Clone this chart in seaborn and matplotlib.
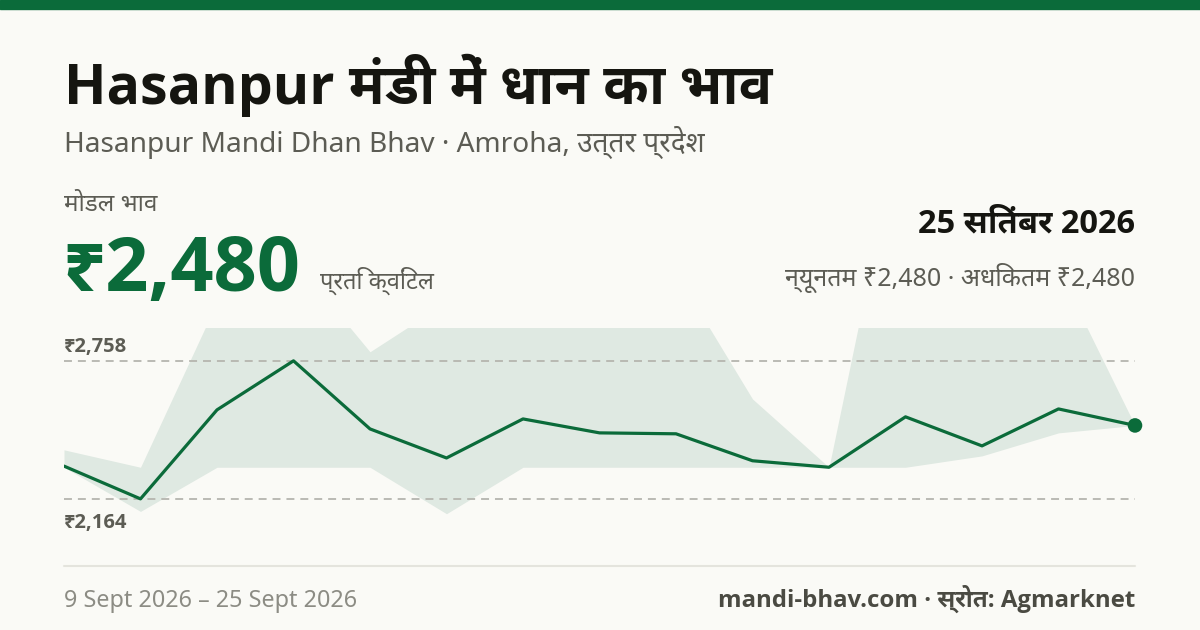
import matplotlib
matplotlib.use('Agg')
import matplotlib.pyplot as plt
from matplotlib import font_manager
import pandas as pd
import seaborn as sns

# Data
dates = ["9 Sep", "10 Sep", "11 Sep", "12 Sep", "14 Sep", "15 Sep", "16 Sep", "17 Sep",
         "18 Sep", "19 Sep", "21 Sep", "22 Sep", "23 Sep", "24 Sep", "25 Sep"]
modal_price = [2305, 2164, 2547, 2758, 2465, 2340, 2508, 2448, 2444, 2328, 2300, 2517, 2392, 2551, 2480]
min_price = [2300, 2110, 2300, 2300, 2300, 2100, 2300, 2300, 2300, 2300, 2300, 2300, 2349, 2448, 2480]
max_price = [2375, 2300, 3010, 3195, 2797, 3010, 3100, 3100, 3137, 2594, 2300, 3880, 3500, 3150, 2480]

title = "Hasanpur मंडी में धान का भाव"
subtitle = "Hasanpur Mandi Dhan Bhav · Amroha, उत्तर प्रदेश"
modal_label = "मोडल भाव"
modal_text = "₹2,480"
unit_text = "प्रति क्विंटल"
date_text = "25 सितंबर 2026"
range_text = "न्यूनतम ₹2,480 · अधिकतम ₹2,480"
hi_label = "₹2,758"
lo_label = "₹2,164"
period_text = "9 Sept 2026 – 25 Sept 2026"
source_text = "mandi-bhav.com · स्रोत: Agmarknet"

GREEN = "#0b6b3a"
BAND = "#dfe9e2"
BG = "#fafaf6"
DARK = "#151510"
GREY = "#5c5c54"
LIGHT = "#8c8c84"


def static_bold(candidates):
    """First family that ships a real (non-variable) bold face."""
    for name in candidates:
        for f in font_manager.fontManager.ttflist:
            if f.name == name and f.weight in (700, "bold") and "[" not in f.fname:
                return name
    return "DejaVu Sans"


sns.set_theme(style="white")
DEVA = "Noto Sans Devanagari UI"
REG = ["Noto Sans", DEVA, "DejaVu Sans"]
BOLD = [static_bold(["Open Sans", "Noto Sans", "Lato", "Roboto", "Inter"]), DEVA, "DejaVu Sans"]
plt.rcParams['font.family'] = REG

W, H = 1200, 630
fig = plt.figure(figsize=(12, 6.3), dpi=100)
fig.patch.set_facecolor(BG)


def fx(x):
    return x / W


def fy(y):
    return 1 - y / H


# top green bar
fig.patches.append(plt.Rectangle((0, fy(9)), 1, 9 / H, transform=fig.transFigure,
                                 color=GREEN, zorder=5))

# header texts
fig.text(fx(64), fy(104), title, fontsize=40, fontweight='bold', family=BOLD,
         color=DARK, va='baseline')
fig.text(fx(64), fy(152), subtitle, fontsize=20.2, color=GREY, va='baseline')
fig.text(fx(64), fy(211), modal_label, fontsize=17.5, color=GREY, va='baseline')
fig.text(fx(62), fy(291), modal_text, fontsize=54.5, fontweight='bold', family=BOLD,
         color=GREEN, va='baseline')
fig.text(fx(320), fy(289), unit_text, fontsize=17, color=GREY, va='baseline')
fig.text(fx(1135), fy(232), date_text, fontsize=23.5, fontweight='bold', family=BOLD,
         color=DARK, va='baseline', ha='right')
fig.text(fx(1135), fy(286), range_text, fontsize=18, color=GREY, va='baseline', ha='right')

# chart
y_top, y_bot = 327.7, 532
ax = fig.add_axes([fx(64), fy(y_bot), fx(1135) - fx(64), (y_bot - y_top) / H])
ax.set_facecolor(BG)

df = pd.DataFrame({"date": dates, "modal": modal_price, "low": min_price, "high": max_price})
df["pos"] = range(len(df))

ax.fill_between(df["pos"], df["low"], df["high"], color=BAND, linewidth=0, zorder=1)
sns.lineplot(data=df, x="pos", y="modal", ax=ax, color=GREEN, linewidth=2.3, zorder=3)
last = df.iloc[[-1]]
sns.scatterplot(data=last, x="pos", y="modal", ax=ax, color=GREEN, s=110,
                edgecolor='none', zorder=4, clip_on=False)

hi, lo = max(modal_price), min(modal_price)
for v in (hi, lo):
    ax.axhline(v, color="#b5b5ae", linewidth=1.3, dashes=(4.4, 3.3), zorder=2)

pad = (hi - lo) * 0.24
ax.set_ylim(lo - pad, hi + pad)
ax.set_xlim(0, len(df) - 1)
ax.set_xlabel("")
ax.set_ylabel("")
ax.set_xticks([])
ax.set_yticks([])
for s in ax.spines.values():
    s.set_visible(False)

fig.text(fx(64), fy(352), hi_label, fontsize=14.5, fontweight='bold', family=BOLD,
         color=GREY, va='baseline')
fig.text(fx(64), fy(528), lo_label, fontsize=14.5, fontweight='bold', family=BOLD,
         color=GREY, va='baseline')

# footer
fig.add_artist(plt.Line2D([fx(64), fx(1135)], [fy(566), fy(566)], transform=fig.transFigure,
                          color="#e4e4dd", linewidth=1.5))
fig.text(fx(64), fy(607), period_text, fontsize=16.8, color=LIGHT, va='baseline')
fig.text(fx(1135), fy(607), source_text, fontsize=17.3, fontweight='bold', family=BOLD,
         color="#4a4a42", va='baseline', ha='right')

fig.savefig("out.png", dpi=100, facecolor=BG)
